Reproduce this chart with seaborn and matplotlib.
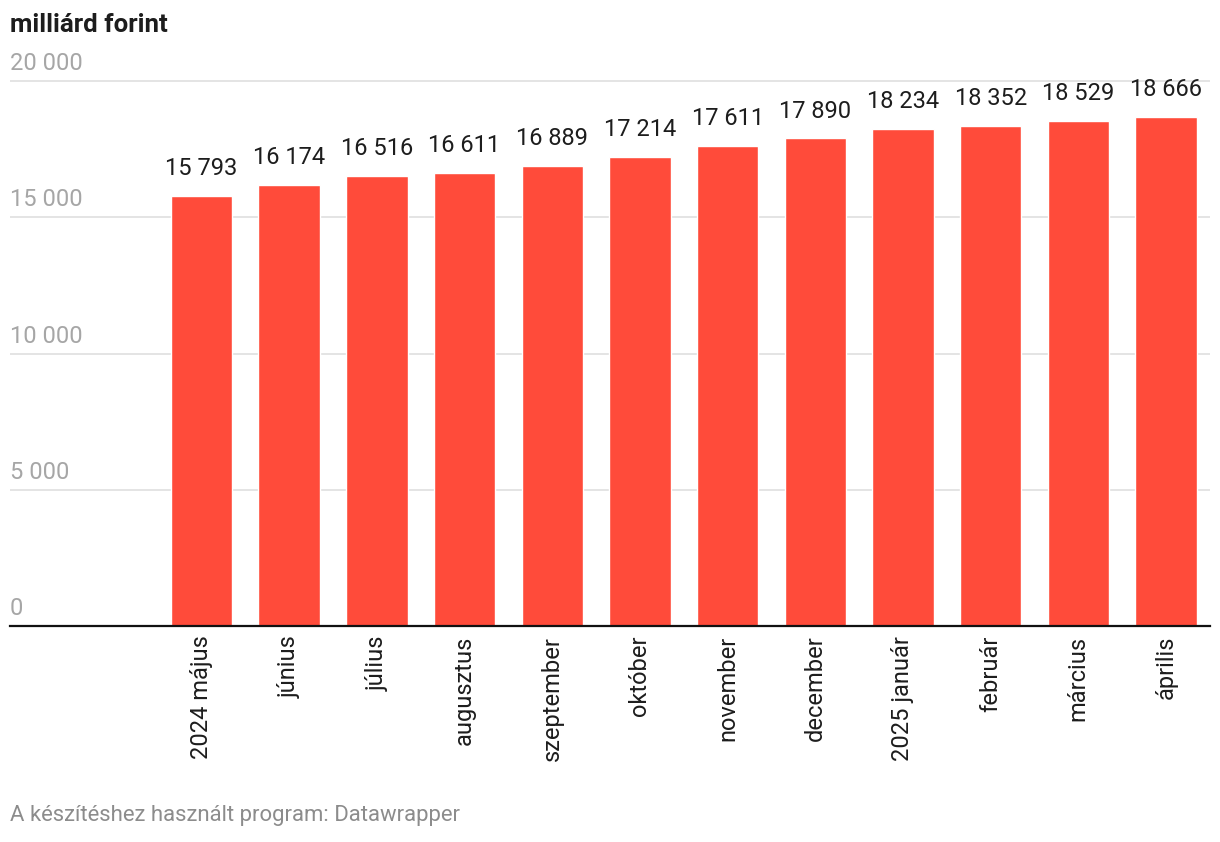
import matplotlib
matplotlib.use("Agg")
import matplotlib.pyplot as plt
import seaborn as sns
import pandas as pd

# data
months = ['2024 május', 'június', 'július', 'augusztus', 'szeptember', 'október',
          'november', 'december', '2025 január', 'február', 'március', 'április']
values = [15793, 16174, 16516, 16611, 16889, 17214, 17611, 17890, 18234, 18352, 18529, 18666]
y_ticks = [0, 5000, 10000, 15000, 20000]

BAR_COLOR = '#ff4b3a'
GRID_COLOR = '#e2e2e2'
TICK_GRAY = '#a6a6a6'


def fmt(v):
    return f"{v:,}".replace(',', ' ')


sns.set_style('white')
plt.rcParams['font.family'] = ['Roboto', 'DejaVu Sans']

df = pd.DataFrame({'month': months, 'value': values})

W, H = 1220, 842
fig = plt.figure(figsize=(W / 100, H / 100), dpi=100)

# pixel layout of the plotting area
left_px, right_px = 10, 1210
base_px = 626
scale = (626 - 81) / 20000  # px per unit
ymax = 20400
top_px = base_px - ymax * scale
ax = fig.add_axes([left_px / W, 1 - base_px / H, (right_px - left_px) / W, (base_px - top_px) / H])

sns.barplot(data=df, x='month', y='value', color=BAR_COLOR, saturation=1, width=0.70, ax=ax)

step = (1166 - 201.5) / 11
ax.set_xlim((left_px - 201.5) / step, (right_px - 201.5) / step)
ax.set_ylim(0, ymax)

# gridlines + y labels sitting above the lines
shift = matplotlib.transforms.ScaledTranslation(0, 6 / 100, fig.dpi_scale_trans)
for t in y_ticks:
    if t > 0:
        ax.axhline(t, color=GRID_COLOR, lw=1.3, zorder=0)
    ax.text(0, t, fmt(t), transform=ax.get_yaxis_transform() + shift, ha='left', va='bottom',
            fontsize=17, color=TICK_GRAY)

# value labels
for i, v in enumerate(values):
    ax.annotate(fmt(v), (i, v), xytext=(0, 11.5), textcoords='offset points',
                ha='center', va='bottom', fontsize=17, color='#1d1d1d')

for s in ['left', 'right', 'top']:
    ax.spines[s].set_visible(False)
ax.spines['bottom'].set_color('#111111')
ax.spines['bottom'].set_linewidth(1.6)
ax.set_yticks([])
ax.set_xlabel('')
ax.set_ylabel('')
ax.tick_params(axis='x', length=0, pad=7)
ax.set_xticks(range(len(months)))
ax.set_xticklabels(months, rotation=90, fontsize=17, color='#1d1d1d', va='top', ha='center')

fig.text(10 / W, 1 - 25 / H, 'milliárd forint', fontsize=18.6, fontweight='bold',
         color='#1d1d1d', ha='left', va='center')
fig.text(10 / W, 1 - 816 / H, 'A készítéshez használt program: Datawrapper', fontsize=15.9,
         color='#8c8c8c', ha='left', va='center')

fig.savefig('out.png', dpi=100, facecolor='white')
